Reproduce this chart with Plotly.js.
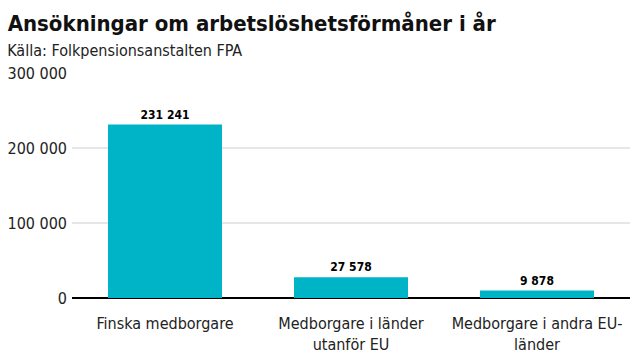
<!DOCTYPE html>
<html><head><meta charset="utf-8">
<script src="https://cdn.plot.ly/plotly-3.0.1.min.js"></script>
<style>body{margin:0;background:#fff}#c{width:640px;height:360px}
#c text{font-stretch:condensed !important}</style>
</head><body><div id="c"></div>
<script>
const categories = ["Finska medborgare", "Medborgare i länder<br>utanför EU", "Medborgare i andra EU-<br>länder"];
const values = [231241, 27578, 9878];
const tickVals = [0, 100000, 200000, 300000];
const tickText = ["0", "100 000", "200 000", "300 000"];
const FONT = '"DejaVu Sans", sans-serif';
const labels = values.map(v => v.toLocaleString('en-US').replace(/,/g, ' '));
Plotly.newPlot('c', [{
  type: 'bar', x: categories, y: values,
  marker: {color: '#00b4c8'},
  text: labels, textposition: 'outside', cliponaxis: false,
  textfont: {family: FONT, size: 12, color: '#000', weight: 'bold'},
  hoverinfo: 'none'
}], {
  width: 640, height: 360,
  margin: {l: 72, r: 10, t: 73, b: 62},
  paper_bgcolor: '#fff', plot_bgcolor: '#fff',
  bargap: 0.387,
  font: {family: FONT, size: 16, color: '#222'},
  title: {text: '<b>Ansökningar om arbetslöshetsförmåner i år</b>', x: 0.012, xanchor: 'left', xref: 'container', y: 0.935, yref: 'container', yanchor: 'middle', font: {family: FONT, size: 22, color: '#111'}},
  annotations: [{text: 'Källa: Folkpensionsanstalten FPA', xref: 'paper', yref: 'paper', x: -0.143, xanchor: 'left', y: 1.102, yanchor: 'middle', showarrow: false, font: {family: FONT, size: 16, color: '#222'}}],
  xaxis: {showgrid: false, ticks: '', tickfont: {family: FONT, size: 16, color: '#222'}, showline: false, zeroline: false, ticklabelstandoff: 14},
  yaxis: {range: [0, 300000], tickvals: tickVals, ticktext: tickText, showgrid: true, gridcolor: '#e6e6e6', gridwidth: 1.5, zeroline: true, zerolinecolor: '#000', zerolinewidth: 2, ticks: '', tickfont: {family: FONT, size: 16, color: '#222'}, ticklabelstandoff: 4, fixedrange: true},
  showlegend: false
}, {displayModeBar: false, staticPlot: true});
</script></body></html>
